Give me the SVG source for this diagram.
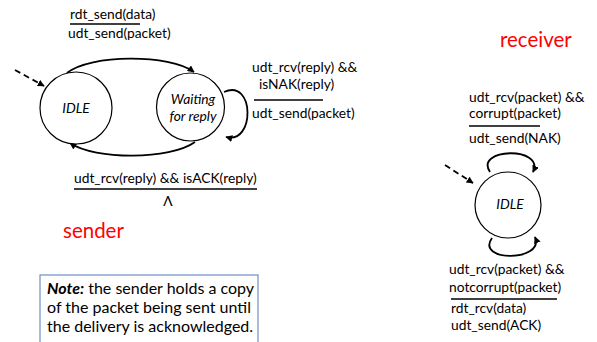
<svg xmlns="http://www.w3.org/2000/svg" width="597" height="342" viewBox="0 0 597 342">
<defs>
<marker id="ah" viewBox="0 0 10 10" refX="9" refY="5" markerWidth="7" markerHeight="7" orient="auto-start-reverse" markerUnits="userSpaceOnUse">
<path d="M0,0 L10,5 L0,10 z" fill="#000"/>
</marker>
<style>
.st{fill:#fff;stroke:#000;stroke-width:1.2}
.t{font-family:"Lato","Liberation Sans",sans-serif;font-size:13.8px;fill:#000}
.it{font-style:italic}
.c{stroke:#000;stroke-width:1.8;fill:none;marker-end:url(#ah)}
.d{stroke:#000;stroke-width:1.8;fill:none;stroke-dasharray:6,4;marker-end:url(#ah)}
.bar{stroke:#000;stroke-width:1.5}
.red{font-family:"Lato","Liberation Sans",sans-serif;font-size:20.5px;fill:#ff0000}
.n{font-family:"Lato","Liberation Sans",sans-serif;font-size:16px;fill:#000}
</style>
</defs>
<rect width="597" height="342" fill="#fff"/>
<g id="connectors">
<path class="c" d="M67,73 C90,54 170,54 194,72"/>
<path class="c" d="M195,142 C170,160 95,160 70,143"/>
<path class="c" d="M224,92 C255,78 255,145 226,137"/>
<path class="d" d="M15,70 L44,86"/>
<path class="c" d="M490,172 C474,148 545,146 533,172"/>
<path class="c" d="M492,238 C475,262 545,262 535,237"/>
<path class="d" d="M445,165 L473,183"/>
</g>
<g id="sender-idle"><circle class="st" cx="76" cy="108" r="36"/><text class="t it" x="76" y="113" text-anchor="middle">IDLE</text></g>
<g id="sender-waiting"><circle class="st" cx="190.5" cy="107" r="34"/><text class="t it" x="193" y="104" text-anchor="middle">Waiting</text><text class="t it" x="193" y="121" text-anchor="middle">for reply</text></g>
<g id="receiver-idle"><circle class="st" cx="508" cy="205" r="33"/><text class="t it" x="510" y="209" text-anchor="middle">IDLE</text></g>
<g id="labels">
<text class="t" x="70" y="19">rdt_send(data)</text>
<line class="bar" x1="70" y1="24" x2="140" y2="24"/>
<text class="t" x="68" y="38">udt_send(packet)</text>
<text class="t" x="252" y="72">udt_rcv(reply) &amp;&amp;</text>
<text class="t" x="259" y="89">isNAK(reply)</text>
<line class="bar" x1="254" y1="100" x2="323" y2="100"/>
<text class="t" x="252" y="118">udt_send(packet)</text>
<text class="t" x="74" y="183">udt_rcv(reply) &amp;&amp; isACK(reply)</text>
<line class="bar" x1="74" y1="189" x2="257" y2="189"/>
<text class="t" x="168" y="206" text-anchor="middle" font-family="Liberation Serif">Λ</text>
<text class="red" x="63" y="238">sender</text>
<text class="red" x="500" y="47">receiver</text>
<text class="t" x="469" y="102">udt_rcv(packet) &amp;&amp;</text>
<text class="t" x="469" y="118">corrupt(packet)</text>
<line class="bar" x1="469" y1="126" x2="540" y2="126"/>
<text class="t" x="469" y="143">udt_send(NAK)</text>
<text class="t" x="449" y="274">udt_rcv(packet) &amp;&amp;</text>
<text class="t" x="449" y="292">notcorrupt(packet)</text>
<line class="bar" x1="451" y1="299" x2="557" y2="299"/>
<text class="t" x="451" y="313">rdt_rcv(data)</text>
<text class="t" x="451" y="330">udt_send(ACK)</text>
</g>
<g id="note">
<rect x="40" y="275" width="218" height="70" fill="#fff" stroke="#6d8fc7" stroke-width="1.2"/>
<text class="n" x="47" y="294"><tspan font-weight="bold" font-style="italic">Note:</tspan> the sender holds a copy</text>
<text class="n" x="47" y="313">of the packet being sent until</text>
<text class="n" x="47" y="332">the delivery is acknowledged.</text>
</g>
</svg>
